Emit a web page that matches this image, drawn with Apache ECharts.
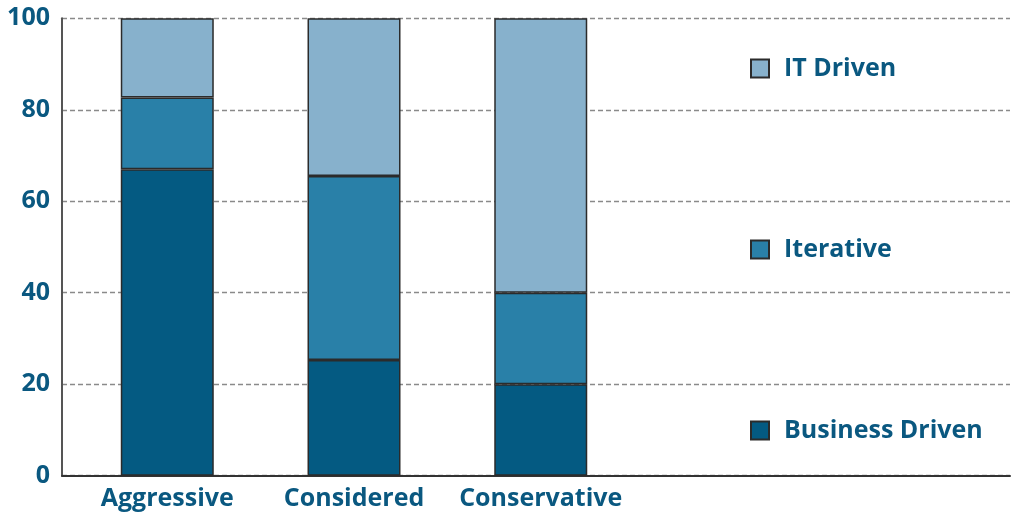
<!DOCTYPE html>
<html>
<head>
<meta charset="utf-8">
<script src="https://cdn.jsdelivr.net/npm/echarts@6/dist/echarts.min.js"></script>
<style>html,body{margin:0;padding:0;background:#fff}#c{width:1013px;height:516px}</style>
</head>
<body>
<div id="c"></div>
<script>
const categories = ['Aggressive', 'Considered', 'Conservative', '', ''];
const businessDriven = [67, 25.3, 20];
const iterative = [15.7, 40.2, 20];
const itDriven = [17.3, 34.5, 60];
const yTicks = [0, 20, 40, 60, 80, 100];

const textColor = '#0a5880';
const font = '"Open Sans", "DejaVu Sans", sans-serif';
const border = { borderColor: '#2b2b2b', borderWidth: 1.5 };
const yMin = yTicks[0], yMax = yTicks[yTicks.length - 1];

const chart = echarts.init(document.getElementById('c'), null, { renderer: 'canvas' });
chart.setOption({
  animation: false,
  grid: [
    { left: 73.9, right: 5.4, top: 18.3, bottom: 40.3 },
    { left: 62, right: 3, top: 18.3, bottom: 40.3 }
  ],
  xAxis: [
    {
      type: 'category', gridIndex: 0, data: categories,
      axisLine: { show: false }, axisTick: { show: false }, splitLine: { show: false },
      axisLabel: { color: textColor, fontFamily: font, fontWeight: 'bold', fontSize: 25, margin: 11, interval: 0 }
    },
    {
      type: 'value', gridIndex: 1, min: 0, max: 1,
      axisLabel: { show: false }, axisTick: { show: false }, splitLine: { show: false },
      axisLine: { show: true, lineStyle: { color: '#333', width: 2 } }
    }
  ],
  yAxis: [
    {
      type: 'value', gridIndex: 0, min: yMin, max: yMax, interval: 20,
      axisLine: { show: false }, axisTick: { show: false }, axisLabel: { show: false }, splitLine: { show: false }
    },
    {
      type: 'value', gridIndex: 1, min: yMin, max: yMax, interval: 20,
      axisLine: { show: true, lineStyle: { color: '#555', width: 2 } },
      axisTick: { show: false },
      axisLabel: { color: textColor, fontFamily: font, fontWeight: 'bold', fontSize: 25, margin: 12 },
      splitLine: { show: true, lineStyle: { color: '#8a8a8a', width: 1.3, type: [5, 3] } }
    }
  ],
  legend: {
    orient: 'vertical',
    left: 750,
    top: 56,
    padding: 0,
    itemWidth: 18,
    itemHeight: 18,
    itemGap: 156,
    icon: 'rect',
    data: ['IT Driven', 'Iterative', 'Business Driven'],
    textStyle: { color: textColor, fontFamily: font, fontWeight: 'bold', fontSize: 25, lineHeight: 18, padding: [0, 0, 0, 10] }
  },
  series: [
    { name: 'Business Driven', type: 'bar', stack: 's', barWidth: 93, data: businessDriven,
      itemStyle: Object.assign({ color: '#045a82' }, border) },
    { name: 'Iterative', type: 'bar', stack: 's', barWidth: 93, data: iterative,
      itemStyle: Object.assign({ color: '#2980a8' }, border) },
    { name: 'IT Driven', type: 'bar', stack: 's', barWidth: 93, data: itDriven,
      itemStyle: Object.assign({ color: '#87b1cc' }, border) }
  ]
});
</script>
</body>
</html>
